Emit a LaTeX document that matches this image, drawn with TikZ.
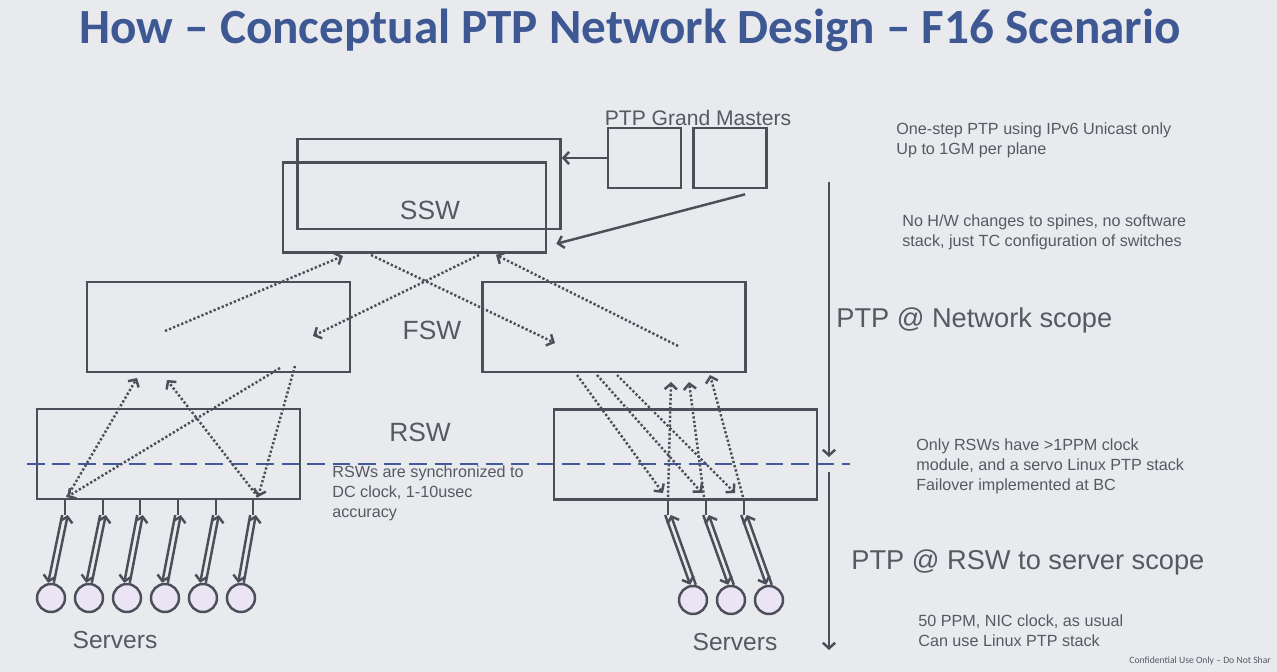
\documentclass[tikz,border=0pt]{standalone}
\usepackage{fontspec}
\setmainfont{Liberation Sans}
\newfontfamily\titlefont{Carlito}
\usepackage{tikz}
\usetikzlibrary{arrows.meta,positioning}

\definecolor{bg}{RGB}{233,234,238}
\definecolor{ink}{RGB}{75,79,88}
\definecolor{txt}{RGB}{85,89,97}
\definecolor{fbblue}{RGB}{62,88,148}
\definecolor{dashblue}{RGB}{66,90,155}
\definecolor{srvfill}{RGB}{234,228,244}

\begin{document}
\begin{tikzpicture}[x=0.02cm,y=-0.02cm,>={Straight Barb[length=3.2pt,width=7pt]},node distance=0.76cm,
    sw node/.style={rectangle,draw=ink,line width=1.5pt,minimum width=5.26cm,minimum height=1.8cm,inner sep=0pt},
    gm node/.style={rectangle,draw=ink,line width=1.5pt,minimum width=1.46cm,minimum height=1.2cm,inner sep=0pt},
    srv node/.style={circle,draw=ink,line width=1.4pt,fill=srvfill,minimum size=0.56cm,inner sep=0pt},
    label node/.style={text=txt,font=\fontsize{15}{18}\selectfont},
    note node/.style={text=txt,anchor=west,align=left,inner sep=0pt,font=\fontsize{9.2}{11.3}\selectfont},
    scope node/.style={text=txt,anchor=west,inner sep=0pt,font=\fontsize{15.5}{18}\selectfont},
    dots/.style={->,ink,line width=1.4pt,dash pattern=on 1.3pt off 1.2pt},
    link/.style={->,ink,line width=1.4pt},
    port/.style={ink,line width=1.4pt}]

  \fill[bg] (0,0) rectangle (1277,672);
  \useasboundingbox (0,0) rectangle (1277,672);

  \node[text=fbblue,font=\titlefont\bfseries\fontsize{28}{32}\selectfont] (title) at (630,30)
    {How – Conceptual PTP Network Design – F16 Scenario};

  \node[sw node] (sswb) at (429,184) {};
  \node[sw node] (sswf) at (414.5,207.5) {};
  \node[label node] (ssw) at (430,210) {SSW};
  \node[gm node] (gm1) at (644.5,158) {};
  \node[gm node] (gm2) [right=0.2cm of gm1] {};
  \node[text=txt,font=\fontsize{12}{14}\selectfont] (gmlabel) at (698,118) {PTP Grand Masters};

  \node[sw node] (fswl) at (218.5,327) {};
  \node[sw node] (fswr) at (614,327) {};
  \node[label node] (fsw) at (432,330) {FSW};
  \node[sw node] (rswl) at (168.5,454) {};
  \node[sw node] (rswr) at (685.5,454.5) {};
  \node[label node] (rsw) at (420,432) {RSW};

  \node[srv node] (s1) at (51,598) {};
  \node[srv node] (s2) [right of=s1] {};
  \node[srv node] (s3) [right of=s2] {};
  \node[srv node] (s4) [right of=s3] {};
  \node[srv node] (s5) [right of=s4] {};
  \node[srv node] (s6) [right of=s5] {};
  \node[srv node] (r1) at (693,600) {};
  \node[srv node] (r2) [right of=r1] {};
  \node[srv node] (r3) [right of=r2] {};
  \node[text=txt,font=\fontsize{14}{16}\selectfont] (srvl) at (115,640) {Servers};
  \node[text=txt,font=\fontsize{14}{16}\selectfont] (srvr) at (735,642) {Servers};

  \node[note node] (gmnote) at (896,140) {One-step PTP using IPv6 Unicast only\\Up to 1GM per plane};
  \node[note node] (spnote) at (902,232) {No H/W changes to spines, no software\\stack, just TC configuration of switches};
  \node[note node] (rsnote) at (916,466) {Only RSWs have >1PPM clock\\module, and a servo Linux PTP stack\\Failover implemented at BC};
  \node[note node] (svnote) at (918,631) {50 PPM, NIC clock, as usual\\Can use Linux PTP stack};
  \node[note node] (synote) at (332,493) {RSWs are synchronized to\\DC clock, 1-10usec\\accuracy};
  \node[scope node] (netscope) at (836,320) {PTP @ Network scope};
  \node[scope node] (srvscope) at (851,562) {PTP @ RSW to server scope};
  \node[anchor=east,text=txt,font=\titlefont\fontsize{5.5}{6}\selectfont] (conf) at (1277,661)
    {Confidential Use Only – Do Not Shar};

  \coordinate (p1) at (65,515);
  \coordinate (p2) at (103,515);
  \coordinate (p3) at (140,515);
  \coordinate (p4) at (178,515);
  \coordinate (p5) at (216,515);
  \coordinate (p6) at (253,515);
  \coordinate (q1) at (668,515);
  \coordinate (q2) at (706,515);
  \coordinate (q3) at (744,515);

  \coordinate (a1) at (165,331);  \coordinate (a2) at (343,256);
  \coordinate (b1) at (371,255);  \coordinate (b2) at (555,343);
  \coordinate (c1) at (479,255);  \coordinate (c2) at (313,336);
  \coordinate (d1) at (678,346);  \coordinate (d2) at (496,255);
  \coordinate (e1) at (67,497);   \coordinate (e2) at (137,378);
  \coordinate (f1) at (280,368);  \coordinate (f2) at (67,497);
  \coordinate (g1) at (258,497);  \coordinate (g2) at (167,380);
  \coordinate (h1) at (295,366);  \coordinate (h2) at (258,497);
  \coordinate (i1) at (577,375);  \coordinate (i2) at (663,493);
  \coordinate (j1) at (597,375);  \coordinate (j2) at (702,493);
  \coordinate (k1) at (617,375);  \coordinate (k2) at (735,493);
  \coordinate (l1) at (668,497);  \coordinate (l2) at (671,382);
  \coordinate (m1) at (704,497);  \coordinate (m2) at (689,382);
  \coordinate (o1) at (743,497);  \coordinate (o2) at (710,375);

  \coordinate (v1) at (829,182);  \coordinate (v2) at (829,457);
  \coordinate (w1) at (829,472);  \coordinate (w2) at (829,650);
  \coordinate (dl1) at (27,464);  \coordinate (dl2) at (850,464);

  \draw[dashblue,line width=1.3pt,dash pattern=on 10pt off 4.5pt] (dl1) -- (dl2);

  \path[link]
    (gm1.west) edge (gm1.west -| sswb.east)
    ([shift={(15,5)}]gm2.south) edge ([shift={(9,-10)}]sswf.south east)
    (v1) edge (v2)
    (w1) edge (w2);

  \path[dots]
    (a1) edge (a2)
    (b1) edge (b2)
    (c1) edge (c2)
    (d1) edge (d2)
    (e1) edge (e2)
    (f1) edge (f2)
    (g1) edge (g2)
    (h1) edge (h2)
    (i1) edge (i2)
    (j1) edge (j2)
    (k1) edge (k2)
    (l1) edge (l2)
    (m1) edge (m2)
    (o1) edge (o2);

  \path[port]
    (p1 |- rswl.south) edge (p1)
    (p2 |- rswl.south) edge (p2)
    (p3 |- rswl.south) edge (p3)
    (p4 |- rswl.south) edge (p4)
    (p5 |- rswl.south) edge (p5)
    (p6 |- rswl.south) edge (p6)
    (q1 |- rswr.south) edge (q1)
    (q2 |- rswr.south) edge (q2)
    (q3 |- rswr.south) edge (q3);

  \path[link]
    ([xshift=-1.6pt]p1) edge ([xshift=-1.6pt]s1.north)
    ([xshift=1.6pt]s1.north) edge ([xshift=1.6pt]p1)
    ([xshift=-1.6pt]p2) edge ([xshift=-1.6pt]s2.north)
    ([xshift=1.6pt]s2.north) edge ([xshift=1.6pt]p2)
    ([xshift=-1.6pt]p3) edge ([xshift=-1.6pt]s3.north)
    ([xshift=1.6pt]s3.north) edge ([xshift=1.6pt]p3)
    ([xshift=-1.6pt]p4) edge ([xshift=-1.6pt]s4.north)
    ([xshift=1.6pt]s4.north) edge ([xshift=1.6pt]p4)
    ([xshift=-1.6pt]p5) edge ([xshift=-1.6pt]s5.north)
    ([xshift=1.6pt]s5.north) edge ([xshift=1.6pt]p5)
    ([xshift=-1.6pt]p6) edge ([xshift=-1.6pt]s6.north)
    ([xshift=1.6pt]s6.north) edge ([xshift=1.6pt]p6)
    ([xshift=-1.6pt]q1) edge ([xshift=-1.6pt]r1.north)
    ([xshift=1.6pt]r1.north) edge ([xshift=1.6pt]q1)
    ([xshift=-1.6pt]q2) edge ([xshift=-1.6pt]r2.north)
    ([xshift=1.6pt]r2.north) edge ([xshift=1.6pt]q2)
    ([xshift=-1.6pt]q3) edge ([xshift=-1.6pt]r3.north)
    ([xshift=1.6pt]r3.north) edge ([xshift=1.6pt]q3);
\end{tikzpicture}
\end{document}
